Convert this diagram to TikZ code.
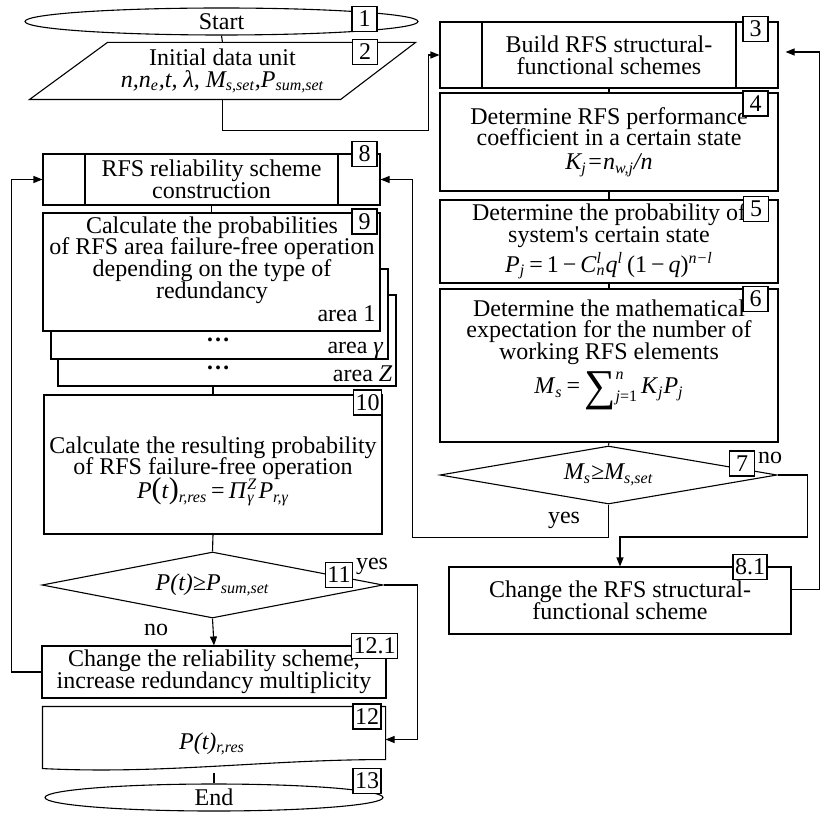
\documentclass[tikz,border=0pt]{standalone}
\usepackage{fontspec}
\setmainfont{Liberation Serif}
\usepackage{tikz}
\usetikzlibrary{shapes.geometric, arrows.meta}

\newcommand{\flowfont}{\fontsize{12}{10.8}\selectfont\lineskiplimit=-20pt\relax}
\newcommand{\sbs}[1]{\textsubscript{\itshape #1}}
\newcommand{\sps}[1]{\textsuperscript{\itshape #1}}
\newcommand{\sbsp}[2]{\rlap{\sps{#2}}\sbs{#1}}

\begin{document}
\begin{tikzpicture}[
    x=0.5pt, y=-0.5pt,
    line width=0.55pt,
    every node/.style = {font=\flowfont, inner sep=0pt},
    term/.style = {draw, ellipse, fill=white, minimum height=13.5pt},
    proc/.style = {draw, rectangle, fill=white, align=center},
    predef/.style = {proc, path picture={
        \draw ([xshift=21pt]path picture bounding box.north west) -- ([xshift=21pt]path picture bounding box.south west);
        \draw ([xshift=-21pt]path picture bounding box.north east) -- ([xshift=-21pt]path picture bounding box.south east);
    }},
    cond/.style = {draw, diamond, fill=white},
    num/.style = {draw, fill=white, minimum width=12.5pt, minimum height=12.5pt, inner xsep=1pt},
    arr/.style = {-{Triangle[length=4.5pt,width=3.5pt]}}
  ]
    \useasboundingbox (0,0) rectangle (822,812);

    % right column
    \node[term, minimum width=196.5pt] (start) at (221.5,21.5) {Start};  % 1
    \node[minimum width=192.5pt, minimum height=28pt, align=center] (para) at (222.5,71)
        {Initial data unit\\ \textit{n,n\sbs{e},t, λ, M\sbs{s,set},P\sbs{sum,set}}};  % 2
    \draw ([xshift=39pt]para.north west) -- (para.north east) -- ([xshift=-37.5pt]para.south east) -- (para.south west) -- cycle;
    \node[predef, minimum width=169pt, minimum height=33pt] (b3) at (609,55) {Build RFS structural-\\functional schemes};  % 3
    \node[proc, minimum width=169pt, minimum height=49pt] (b4) at (609,142)
        {Determine RFS performance\\coefficient in a certain state\\[1pt]\textit{K\sbs{j}=n\sbs{w,j}/n}};  % 4
    \node[proc, minimum width=169pt, minimum height=41.5pt] (b5) at (609,241.5)
        {Determine the probability of\\system{\textquotesingle}s certain state\\[4pt]
         \textit{P}\sbs{j}\,=\,1\,−\,\textit{C}\sbsp{n}{l}\textit{q}\sps{l}\,(1\,−\,\textit{q})\sps{n−l}};  % 5
    \node[proc, minimum width=169pt, minimum height=76.5pt] (b6) at (609,365.5) {};  % 6
    \node[align=center] (t6) at (609,332) {Determine the mathematical\\expectation for the number of\\working RFS elements};
    \node (f6) at (609,391) {\textit{M}\sbs{s}\,=\,\raisebox{-3.5pt}{\fontsize{22}{22}\selectfont ∑}%
        \rlap{\raisebox{7pt}{\fontsize{8}{8}\selectfont\itshape n}}\raisebox{-4pt}{\fontsize{8}{8}\selectfont\itshape j\upshape =1}\,\textit{K}\sbs{j}\textit{P}\sbs{j}};
    \node[cond, aspect=5.8, minimum width=168.5pt, minimum height=29pt] (d7) at (608.5,475) {\textit{M\sbs{s}≥M\sbs{s,set}}};  % 7
    \node[proc, minimum width=171pt, minimum height=33.5pt] (b81) at (620,600.5) {Change the RFS structural-\\functional scheme};  % 8.1

    % left column
    \node[predef, minimum width=168.5pt, minimum height=25.5pt] (b8) at (211.5,179.5) {RFS reliability scheme\\construction};  % 8
    \node[proc, minimum width=169pt, minimum height=45.5pt] (b9c) at (227,340.5) {};  % area Z
    \node[proc, minimum width=168.5pt, minimum height=45pt] (b9b) at (219.5,314) {};  % area gamma
    \node[proc, minimum width=168.5pt, minimum height=59pt] (b9) at (211.5,272) {};  % area 1
    \node[align=center] (t9) at (212,260) {Calculate the probabilities\\of RFS area failure-free operation\\depending on the type of\\redundancy};
    \node[anchor=base east] (a1) at (376,321) {area 1};
    \node[anchor=base east] (ag) at (384,353) {area \textit{γ}};
    \node[anchor=base east] (az) at (393,381) {area \textit{Z}};
    \node[anchor=base] (dots1) at (218,341) {\textbf{…}};
    \node[anchor=base] (dots2) at (218,369) {\textbf{…}};
    \node[proc, minimum width=169pt, minimum height=69.5pt] (b10) at (213,464.5) {};  % 10
    \node[align=center] (t10) at (213,471) {Calculate the resulting probability\\of RFS failure-free operation\\[1pt]
        \textit{P}{\fontsize{15}{15}\selectfont(}\textit{t}{\fontsize{15}{15}\selectfont)}\sbs{r,res}\,=\,\textit{Π}\sbsp{γ}{Z}\,\textit{P}\sbs{r,γ}};
    \node[cond, aspect=5.2, minimum width=170.5pt, minimum height=33pt] (d11) at (212.5,585) {\textit{P(t)≥P\sbs{sum,set}}};  % 11
    \node[proc, minimum width=172pt, minimum height=26pt] (b121) at (214,672) {Change the reliability scheme,\\increase redundancy multiplicity};  % 12.1
    \node[minimum width=171pt, minimum height=32.5pt] (b12) at (214,739.5) {};  % 12
    \draw (b12.north west) -- (b12.north east) -- ([yshift=6.5pt]b12.south east)
        .. controls ([xshift=-60pt,yshift=6.5pt]b12.south east) and ([xshift=60pt,yshift=-1pt]b12.south west) .. ([yshift=2pt]b12.south west) -- cycle;
    \node (t12) at (212,744) {\textit{P(t)\sbs{r,res}}};
    \node[term, minimum width=169pt] (stop) at (214,797.5) {End};  % 13

    % connectors
    \draw (start.south) -- (para.north);
    \draw[arr] (para.south) -- ++(0,31) -| ([xshift=-5.5pt]b3.west) -- (b3.west);
    \draw (b3.south) -- (b4.north);
    \draw (b4.south) -- (b5.north);
    \draw (b5.south) -- (b6.north);
    \draw (b6.south) -- (d7.north);
    \draw[arr] (d7.east) -- ++(30,0) -- ++(0,62) -| (b81.north);
    \draw[arr] (d7.south) -- ++(0,33) -| ([xshift=16pt]b8.east) -- (b8.east);
    \draw[arr, shorten >=3.5pt] ([yshift=5.5pt]b81.east) -| ([xshift=20.5pt,yshift=1.5pt]b3.east) -- ([yshift=1.5pt]b3.east);
    \draw (b8.south) -- (b9.north);
    \draw (b10.north |- b9c.south) -- (b10.north);
    \draw (b10.south) -- (d11.north);
    \draw[arr] (d11.east) -- ++(34,0) |- (b12.east);
    \draw[arr] (d11.south) -- (b121.north);
    \draw[arr] (b121.west) -- ++(-30,0) |- (b8.west);
    \draw (b12.south) -- (stop.north);

    % yes / no
    \node (no7) at (770,458) {no};
    \node (yes7) at (564,520) {yes};
    \node (yes11) at (372,566) {yes};
    \node (no11) at (156,630) {no};

    % block numbers
    \node[num] (n1) at (364.5,19) {1};
    \node[num] (n2) at (365,52) {2};
    \node[num] (n3) at (755.5,29) {3};
    \node[num] (n4) at (755.5,103.5) {4};
    \node[num] (n5) at (756,209) {5};
    \node[num] (n6) at (755.5,299) {6};
    \node[num] (n7) at (742,463.5) {7};
    \node[num] (n81) at (750,567) {8.1};
    \node[num] (n8) at (364.5,154) {8};
    \node[num] (n9) at (364.5,221.5) {9};
    \node[num] (n10) at (367.5,402.5) {10};
    \node[num] (n11) at (339,575) {11};
    \node[num] (n121) at (374.5,646) {12.1};
    \node[num] (n12) at (367,716.5) {12};
    \node[num] (n13) at (367,781) {13};
\end{tikzpicture}
\end{document}
